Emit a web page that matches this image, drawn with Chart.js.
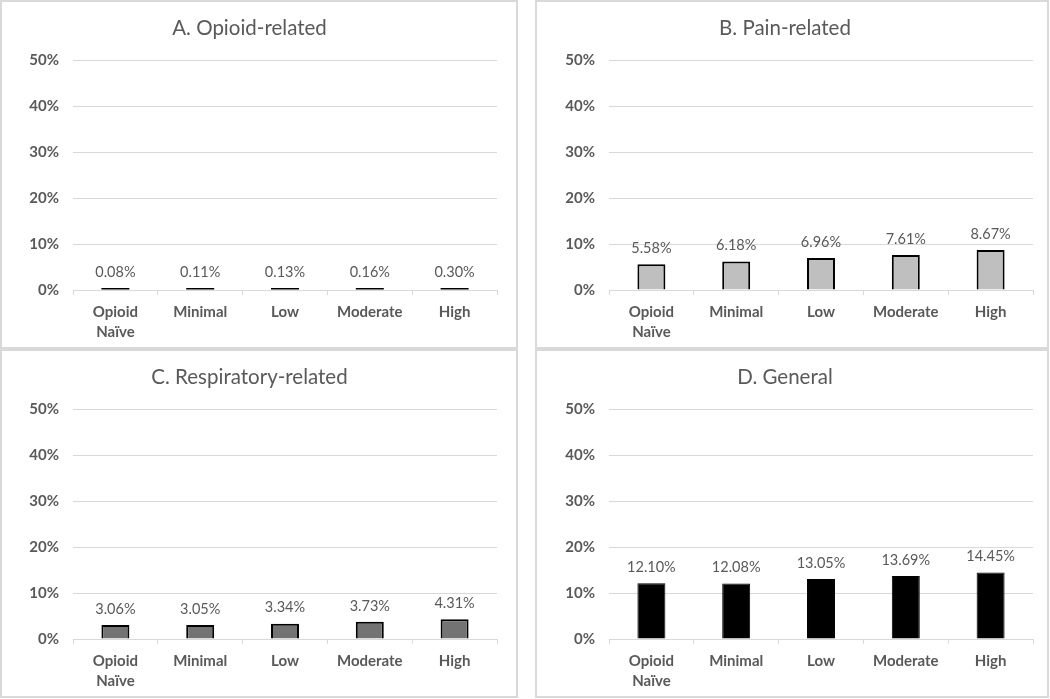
<!DOCTYPE html>
<html>
<head>
<meta charset="utf-8">
<script src="https://cdn.jsdelivr.net/npm/chart.js@4"></script>
<style>
  body { margin: 0; background: #fff; }
  .panel { position: absolute; box-sizing: border-box; border: 2px solid #d9d9d9; height: 349px; }
  .panel canvas { display: block; }
</style>
</head>
<body>
<div class="panel" style="left:0; top:0; width:518px;"><canvas id="chartA"></canvas></div>
<div class="panel" style="left:535px; top:0; width:514px;"><canvas id="chartB"></canvas></div>
<div class="panel" style="left:0; top:349px; width:518px;"><canvas id="chartC"></canvas></div>
<div class="panel" style="left:535px; top:349px; width:514px;"><canvas id="chartD"></canvas></div>
<script>
// categories (opioid dose groups)
const doseGroups = [['Opioid', 'Naïve'], 'Minimal', 'Low', 'Moderate', 'High'];

// rates in percent, one array per panel
const opioidRelated = [0.08, 0.11, 0.13, 0.16, 0.30];
const painRelated = [5.58, 6.18, 6.96, 7.61, 8.67];
const respiratoryRelated = [3.06, 3.05, 3.34, 3.73, 4.31];
const generalRates = [12.10, 12.08, 13.05, 13.69, 14.45];

const panelTitles = ['A. Opioid-related', 'B. Pain-related', 'C. Respiratory-related', 'D. General'];
const yTickValues = [0, 10, 20, 30, 40, 50];

const fontFamily = 'Lato, "Open Sans", sans-serif';
const textGrey = '#595959';
const lineGrey = '#d9d9d9';

// draws the value labels above each bar
const valueLabels = {
    id: 'valueLabels',
    afterDatasetsDraw(chart) {
        const ctx = chart.ctx;
        const values = chart.data.datasets[0].data;
        const meta = chart.getDatasetMeta(0);
        const base = chart.scales.y.getPixelForValue(0);
        ctx.save();
        ctx.font = '14.5px ' + fontFamily;
        ctx.fillStyle = textGrey;
        ctx.textAlign = 'center';
        ctx.textBaseline = 'middle';
        meta.data.forEach((bar, i) => {
            const top = Math.min(bar.y, base - 1);
            ctx.fillText(values[i].toFixed(2) + '%', bar.x, top - 16);
        });
        ctx.restore();
    }
};

function makeChart(id, title, values, fill, borderWidth, minLength, width, yWidth, padRight) {
    const canvas = document.getElementById(id);
    canvas.width = width;
    canvas.height = 345;
    canvas.style.width = width + 'px';
    canvas.style.height = '345px';

    return new Chart(canvas, {
        type: 'bar',
        data: {
            labels: doseGroups,
            datasets: [{
                data: values,
                backgroundColor: fill,
                borderColor: '#000000',
                borderWidth: borderWidth,
                minBarLength: minLength,
                barPercentage: 0.33,
                categoryPercentage: 1
            }]
        },
        options: {
            responsive: false,
            animation: false,
            layout: { padding: { left: 0, right: padRight, bottom: 0 } },
            plugins: {
                legend: { display: false },
                tooltip: { enabled: false },
                title: {
                    display: true,
                    text: title,
                    color: textGrey,
                    font: { family: fontFamily, size: 20.5, weight: 'normal', lineHeight: 1.2 },
                    padding: { top: 14, bottom: 19.4 }
                }
            },
            scales: {
                x: {
                    grid: { offset: true, drawOnChartArea: false, drawTicks: true, tickLength: 5, color: lineGrey },
                    border: { color: lineGrey, width: 1 },
                    ticks: {
                        color: textGrey,
                        font: { family: fontFamily, size: 15, weight: 'bold', lineHeight: 1.33 },
                        padding: 7,
                        maxRotation: 0,
                        autoSkip: false
                    },
                    afterFit: (scale) => { scale.height = 57; }
                },
                y: {
                    min: yTickValues[0],
                    max: yTickValues[yTickValues.length - 1],
                    afterBuildTicks: (scale) => { scale.ticks = yTickValues.map(v => ({ value: v })); },
                    grid: { color: lineGrey, drawTicks: false },
                    border: { display: false },
                    ticks: {
                        color: textGrey,
                        font: { family: fontFamily, size: 15, weight: 'bold' },
                        padding: 14,
                        callback: (v) => v + '%'
                    },
                    afterFit: (scale) => { scale.width = yWidth; }
                }
            }
        },
        plugins: [valueLabels]
    });
}

makeChart('chartA', panelTitles[0], opioidRelated, '#000000', 0, 2, 514, 71, 19);
makeChart('chartB', panelTitles[1], painRelated, '#bfbfbf', 2, 0, 510, 72, 14);
makeChart('chartC', panelTitles[2], respiratoryRelated, '#737373', 2, 0, 514, 71, 19);
makeChart('chartD', panelTitles[3], generalRates, '#000000', 1, 0, 510, 72, 14);
</script>
</body>
</html>
